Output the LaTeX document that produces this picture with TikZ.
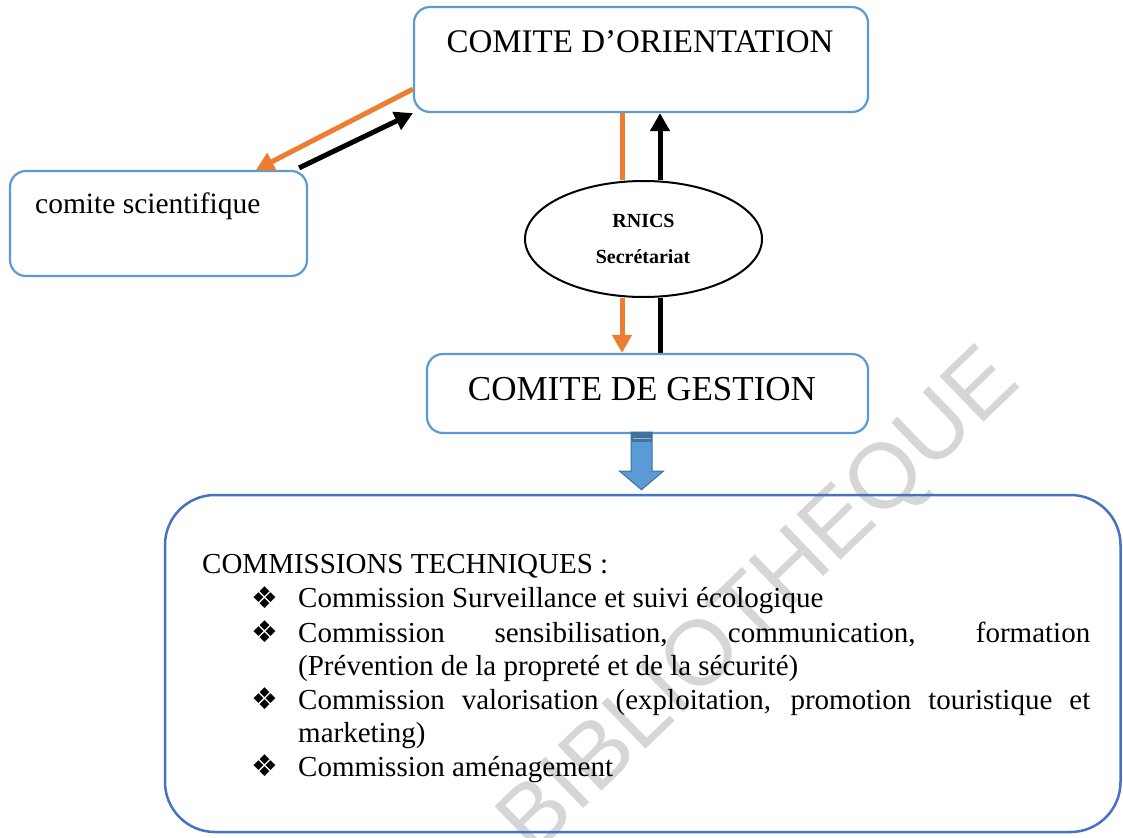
\documentclass[tikz,border=0pt]{standalone}
\usepackage{fontspec}
\setmainfont{Liberation Serif}
\newfontfamily\wmfont{Liberation Sans}
\newfontfamily\dingfont{DejaVu Sans}
\usetikzlibrary{arrows.meta,shapes.geometric,calc,backgrounds}

\definecolor{boxblue}{HTML}{5B9BD5}
\definecolor{bigblue}{HTML}{4472C4}
\definecolor{arrorange}{HTML}{ED7D31}
\definecolor{arrfill}{HTML}{5B9BD5}
\definecolor{arredge}{HTML}{41719C}
\definecolor{wmgray}{HTML}{D6D6D6}

\begin{document}
\begin{tikzpicture}[x=1pt,y=-1pt,
  roundbox/.style={draw=boxblue, line width=2.2pt, rounded corners=16pt, fill=white, inner sep=0pt},
  boxtext/.style={anchor=base, inner sep=0pt},
  bodytext/.style={anchor=base west, inner sep=0pt, font=\fontsize{29}{34}\selectfont},
  bulletmark/.style={anchor=base west, inner sep=0pt, font=\dingfont\fontsize{30}{30}\selectfont},
  link/.style={line width=5pt, -{Triangle[width=19pt,length=18pt]}},
]
\useasboundingbox (0,0) rectangle (1123,837);

% watermark
\node[rotate=44, text=wmgray, font=\wmfont\fontsize{92}{92}\selectfont, inner sep=0pt] (wm) at (762,604) {BIBLIOTHEQUE};

% boxes
\node[roundbox, minimum width=454pt, minimum height=105pt] (orient) at (641,59.5) {};
\node[boxtext, font=\fontsize{33}{40}\selectfont] (orientT) at (640,53) {COMITE D’ORIENTATION};

\node[roundbox, minimum width=297pt, minimum height=105pt] (sci) at (158.5,223.5) {};
\node[anchor=base west, inner sep=0pt, font=\fontsize{29.5}{34}\selectfont] (sciT) at (35,213) {comite scientifique};

\node[draw, ellipse, line width=2pt, fill=white, minimum width=237pt, minimum height=116pt, inner sep=0pt] (rn) at (643.5,239) {};
\node[boxtext, font=\bfseries\fontsize{20}{24}\selectfont] (rnA) at (643.5,227) {RNICS};
\node[boxtext, font=\bfseries\fontsize{20}{24}\selectfont] (rnB) at (643,263) {Secrétariat};

\node[roundbox, minimum width=441pt, minimum height=79pt] (gestion) at (647.5,393.5) {};
\node[boxtext, font=\fontsize{35}{40}\selectfont] (gestionT) at (642,400) {COMITE DE GESTION};

\node[draw=bigblue, line width=2.5pt, rounded corners=50pt, minimum width=955.5pt, minimum height=337pt, inner sep=0pt] (comm) at (642.75,663.5) {};

% list of commissions
\node[bodytext] (c0) at (202,573) {COMMISSIONS TECHNIQUES :};
\node[bulletmark] (b1) at (251,608) {❖};
\node[bodytext] (c1) at (298,607.5) {Commission Surveillance et suivi écologique};
\node[bulletmark] (b2) at (251,642.5) {❖};
\node[bodytext] (c2) at (298,642) {\makebox[792pt][s]{Commission sensibilisation, communication, formation}};
\node[bodytext] (c2b) at (298,675.5) {(Prévention de la propreté et de la sécurité)};
\node[bulletmark] (b3) at (251,709.5) {❖};
\node[bodytext] (c3) at (298,709) {\makebox[792pt][s]{Commission valorisation (exploitation, promotion touristique et}};
\node[bodytext] (c3b) at (298,742) {marketing)};
\node[bulletmark] (b4) at (251,776.5) {❖};
\node[bodytext] (c4) at (298,776) {Commission aménagement};

% links between orientation and scientific committee
\coordinate (oL) at ($(orient.south west)+(0,-24)$);
\coordinate (sT) at ($(sci.north west)+(247,0)$);
\coordinate (sR) at ($(sci.north east)+(-9,-2)$);
\draw[link, arrorange] (oL) -- (sT);
\draw[link, black] (sR) -- (orient.south west);

% vertical links through the secretariat
\coordinate (ox) at (622,0);
\coordinate (bx) at (660,0);
\begin{scope}[on background layer]
\draw[line width=5pt, arrorange] (orient.south -| ox) -- (rn.north -| ox);
\draw[link, arrorange] (rn.south -| ox) -- (gestion.north -| ox);
\draw[line width=5pt, black] (gestion.north -| bx) -- (rn.south -| bx);
\draw[link, black] (rn.north -| bx) -- (orient.south -| bx);
\end{scope}

% block arrow towards the technical commissions
\coordinate (bax) at (641.5,0);
\coordinate (ba) at (gestion.south -| bax);
\coordinate (bb) at ($(comm.north -| bax)+(0,-4)$);
\filldraw[fill=arrfill, draw=arredge, line width=1pt]
  ($(ba)+(-10.5,-2)$) -- ($(ba)+(10.5,-2)$) -- ($(ba)+(10.5,37)$) -- ($(ba)+(22,37)$)
  -- (bb) -- ($(ba)+(-22,37)$) -- ($(ba)+(-10.5,37)$) -- cycle;
\fill[arredge] ($(ba)+(-10.5,-2)$) rectangle ($(ba)+(10.5,8)$);
\draw[arrfill!70!white, line width=0.8pt] ($(ba)+(-9,4)$) -- ($(ba)+(9,4)$);
\end{tikzpicture}
\end{document}
